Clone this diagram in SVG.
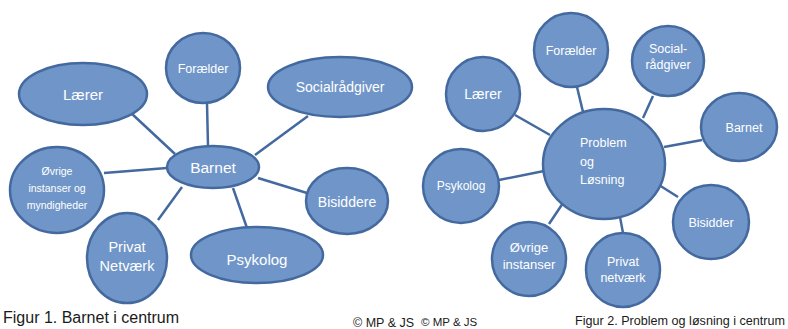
<svg xmlns="http://www.w3.org/2000/svg" width="788" height="329" viewBox="0 0 788 329">
<style>
.n{fill:#7096c9;stroke:#44699f;stroke-width:2.5}
.c{stroke:#44699f;stroke-width:2.5;fill:none}
text{font-family:"Liberation Sans",Arial,sans-serif;text-anchor:middle}
.w{fill:#ffffff}
.k{fill:#1a1a1a;text-anchor:start}
</style>
<rect width="788" height="329" fill="#ffffff"/>
<g id="connectors">
<line class="c" x1="131" y1="113" x2="175" y2="154"/>
<line class="c" x1="207" y1="103" x2="208" y2="146"/>
<line class="c" x1="308" y1="116" x2="255" y2="155"/>
<line class="c" x1="104" y1="173" x2="167" y2="168"/>
<line class="c" x1="258" y1="178" x2="307" y2="193"/>
<line class="c" x1="233" y1="188" x2="247" y2="228"/>
<line class="c" x1="182" y1="187" x2="158" y2="220"/>
<line class="c" x1="515" y1="115" x2="550" y2="135"/>
<line class="c" x1="577" y1="87" x2="583" y2="112"/>
<line class="c" x1="653" y1="96" x2="643" y2="118"/>
<line class="c" x1="664" y1="147" x2="702" y2="140"/>
<line class="c" x1="499" y1="180" x2="544" y2="171"/>
<line class="c" x1="659" y1="185" x2="678" y2="197"/>
<line class="c" x1="620" y1="217" x2="623" y2="233"/>
<line class="c" x1="565" y1="200" x2="549" y2="224"/>
</g>
<g id="f1-laerer"><ellipse class="n" cx="83" cy="94" rx="64" ry="31"/><text class="w" x="83" y="100" font-size="15">Lærer</text></g>
<g id="f1-foraelder"><ellipse class="n" cx="203" cy="68" rx="37" ry="35"/><text class="w" x="203" y="73" font-size="12.5">Forælder</text></g>
<g id="f1-social"><ellipse class="n" cx="340" cy="87" rx="72" ry="30"/><text class="w" x="340" y="92" font-size="14">Socialrådgiver</text></g>
<g id="f1-barnet"><ellipse class="n" cx="213" cy="167" rx="46" ry="21"/><text class="w" x="213" y="173" font-size="15.5">Barnet</text></g>
<g id="f1-ovrige"><ellipse class="n" cx="57" cy="190" rx="47" ry="43"/><text class="w" font-size="10.5"><tspan x="57" y="175">Øvrige</tspan><tspan x="57" y="192">instanser og</tspan><tspan x="57" y="209">myndigheder</tspan></text></g>
<g id="f1-privat"><ellipse class="n" cx="127" cy="258" rx="40" ry="45"/><text class="w" font-size="14.5"><tspan x="127" y="252">Privat</tspan><tspan x="127" y="271">Netværk</tspan></text></g>
<g id="f1-psykolog"><ellipse class="n" cx="257" cy="255" rx="66" ry="28"/><text class="w" x="257" y="265" font-size="15">Psykolog</text></g>
<g id="f1-bisiddere"><ellipse class="n" cx="347" cy="201" rx="41" ry="33"/><text class="w" x="347" y="207" font-size="14">Bisiddere</text></g>
<g id="f2-laerer"><ellipse class="n" cx="483" cy="94" rx="37" ry="37"/><text class="w" x="483" y="99" font-size="14">Lærer</text></g>
<g id="f2-foraelder"><ellipse class="n" cx="571" cy="50" rx="37" ry="37"/><text class="w" x="571" y="55" font-size="12.5">Forælder</text></g>
<g id="f2-social"><ellipse class="n" cx="668" cy="61" rx="36" ry="35"/><text class="w" font-size="12.5"><tspan x="668" y="53">Social-</tspan><tspan x="668" y="69">rådgiver</tspan></text></g>
<g id="f2-barnet"><ellipse class="n" cx="739" cy="127" rx="38" ry="34"/><text class="w" x="744" y="132" font-size="12.5">Barnet</text></g>
<g id="f2-problem"><ellipse class="n" cx="604" cy="164" rx="61" ry="55"/><text class="w" font-size="12.5" style="text-anchor:start"><tspan x="580" y="147">Problem</tspan><tspan x="580" y="166">og</tspan><tspan x="580" y="184">Løsning</tspan></text></g>
<g id="f2-psykolog"><ellipse class="n" cx="461" cy="186" rx="38" ry="37"/><text class="w" x="461" y="190" font-size="12">Psykolog</text></g>
<g id="f2-bisidder"><ellipse class="n" cx="711" cy="222" rx="38" ry="37"/><text class="w" x="711" y="227" font-size="12.5">Bisidder</text></g>
<g id="f2-privat"><ellipse class="n" cx="623" cy="270" rx="37" ry="37"/><text class="w" font-size="12.5"><tspan x="623" y="266">Privat</tspan><tspan x="623" y="282">netværk</tspan></text></g>
<g id="f2-ovrige"><ellipse class="n" cx="529" cy="259" rx="37" ry="37"/><text class="w" font-size="13"><tspan x="529" y="252">Øvrige</tspan><tspan x="529" y="269">instanser</tspan></text></g>
<text class="k" x="3" y="323" font-size="16">Figur 1. Barnet i centrum</text>
<text class="k" x="353" y="327" font-size="12.5">© MP &amp; JS</text>
<text class="k" x="421" y="326" font-size="11.5">© MP &amp; JS</text>
<text class="k" x="575" y="325" font-size="12.6">Figur 2. Problem og løsning i centrum</text>
</svg>
